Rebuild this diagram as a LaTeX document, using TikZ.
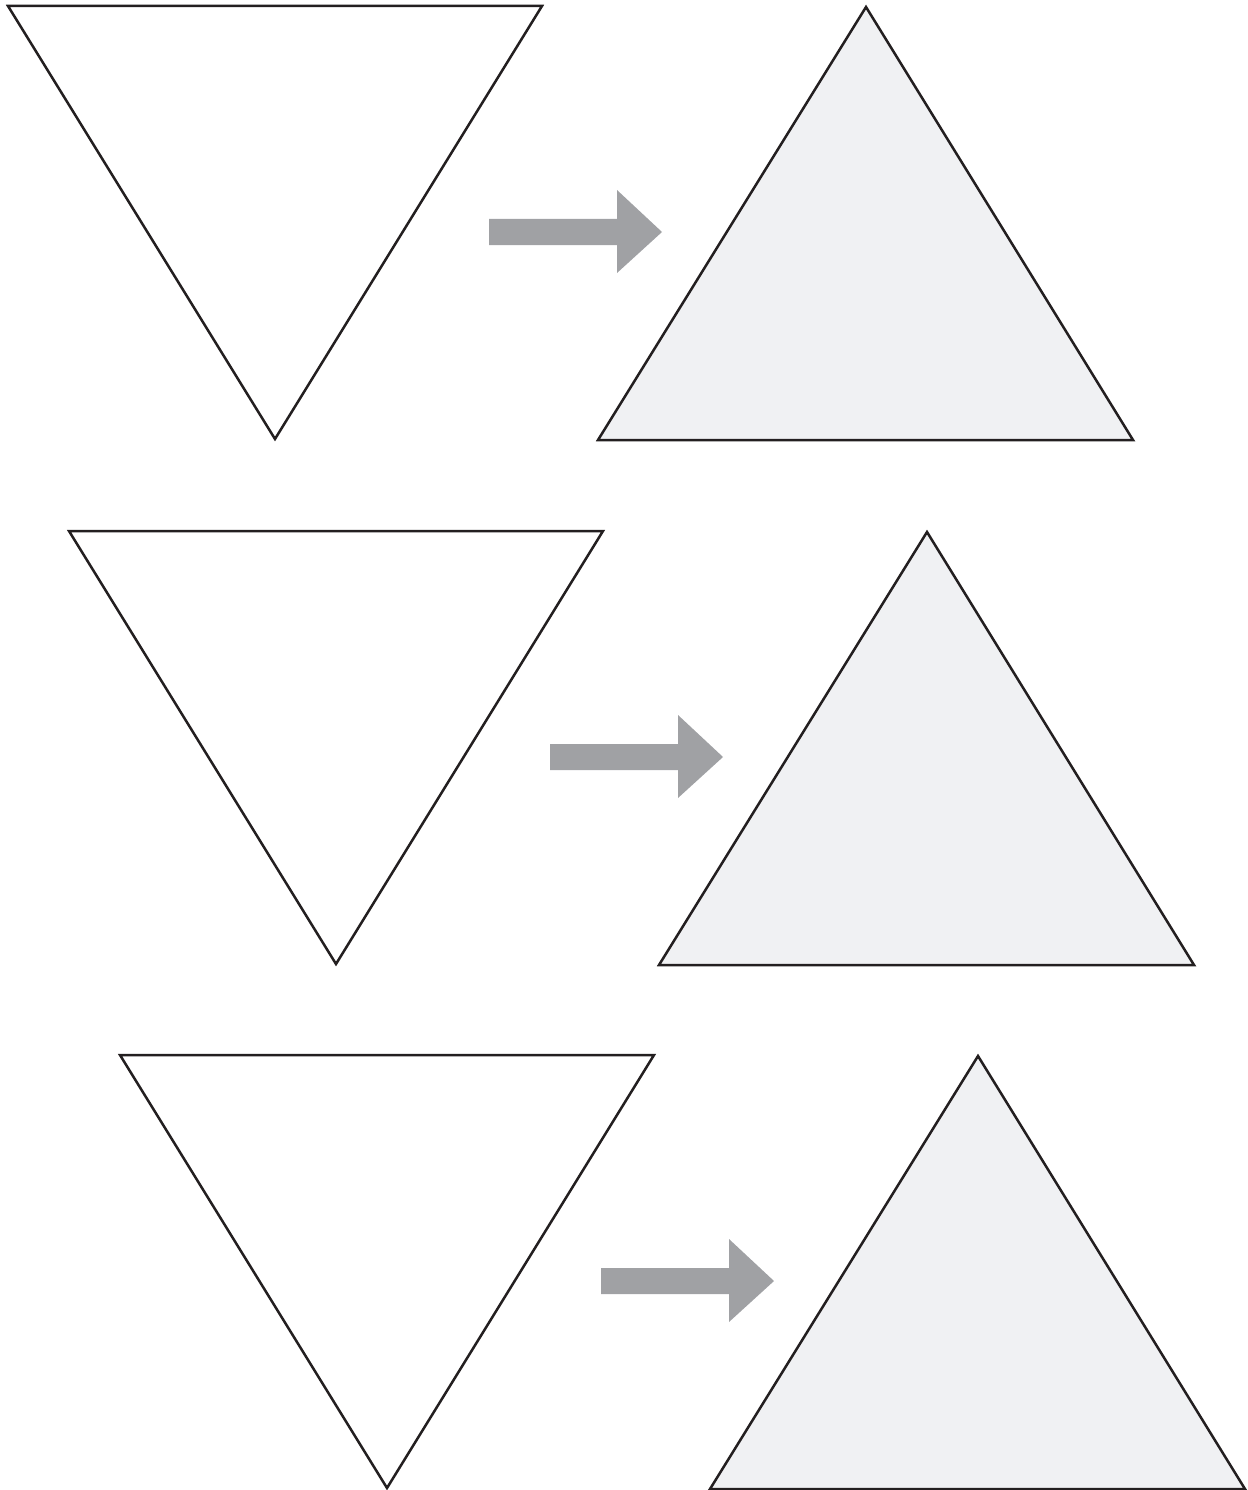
\documentclass[tikz,border=0pt]{standalone}
\usepackage{tikz}
\definecolor{ink}{HTML}{231F20}
\definecolor{arrowgray}{HTML}{A0A1A4}
\definecolor{paleface}{HTML}{F0F1F3}
\tikzset{
  downtri/.style={draw=ink,line width=0.05cm,line join=miter,fill=white},
  uptri/.style={draw=ink,line width=0.05cm,line join=miter,fill=paleface},
  blockarrow/.style={fill=arrowgray,draw=none}
}
\begin{document}
\begin{tikzpicture}[x=0.02cm,y=-0.02cm]
  \useasboundingbox (0,0) rectangle (1247,1490);
  \foreach \dx/\dy/\r in {0/0/1,61/525/2,112/1049/3}{
    \begin{scope}[shift={(\dx,\dy)}]
      % inverted triangle
      \coordinate (tl\r) at (8,6);
      \coordinate (tr\r) at (542,6);
      \coordinate (tb\r) at (275,439);
      \draw[downtri] (tl\r) -- (tr\r) -- (tb\r) -- cycle;
      % block arrow
      \fill[blockarrow] (489,219) -- (617,219) -- (617,190) -- (662,232)
        -- (617,273) -- (617,245) -- (489,245) -- cycle;
      % upright triangle
      \coordinate (ua\r) at (866,7);
      \coordinate (ul\r) at (598,440);
      \coordinate (ur\r) at (1133,440);
      \draw[uptri] (ua\r) -- (ur\r) -- (ul\r) -- cycle;
    \end{scope}
  }
\end{tikzpicture}
\end{document}
